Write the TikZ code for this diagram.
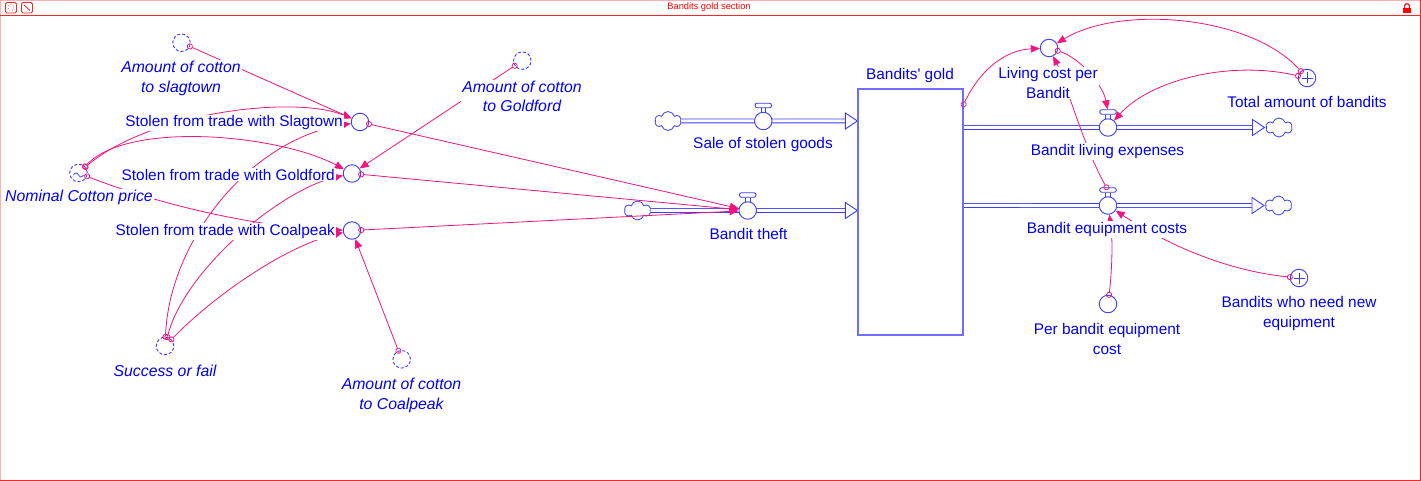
\documentclass[tikz,border=0pt]{standalone}
\usepackage{fontspec}
\setmainfont{Liberation Sans}[Ligatures=TeXOff]
\usetikzlibrary{arrows.meta,shapes.symbols,calc}
\pgfdeclarelayer{back}
\pgfdeclarelayer{nodes}
\pgfdeclarelayer{mid}
\pgfsetlayers{back,nodes,mid,main}
\definecolor{vtext}{RGB}{0,0,250}
\definecolor{sblue}{RGB}{60,60,250}
\definecolor{stockblue}{RGB}{110,110,255}
\definecolor{conn}{RGB}{245,20,125}
\definecolor{framered}{RGB}{240,40,40}
\definecolor{framelight}{RGB}{255,175,175}
\tikzset{
  lbl/.style={text=vtext, font=\fontsize{15.4}{19.5}\selectfont, inner sep=1pt, fill=white, align=center},
  ilbl/.style={lbl, font=\fontsize{15.8}{19.5}\selectfont\itshape},
  aux/.style={circle, draw=sblue, line width=0.9pt, minimum size=17.5pt, inner sep=0pt, fill=white},
  ghost/.style={aux, dash pattern=on 3pt off 2pt},
  plusaux/.style={aux, path picture={\draw[sblue,line width=0.9pt,solid] ([xshift=-5.5pt]path picture bounding box.center) -- ([xshift=5.5pt]path picture bounding box.center) ([yshift=-5.5pt]path picture bounding box.center) -- ([yshift=5.5pt]path picture bounding box.center);}},
  wavy/.style={ghost, path picture={\draw[sblue,line width=0.7pt,solid] ([xshift=-5pt,yshift=-2pt]path picture bounding box.center) sin ++(2.5pt,2pt) cos ++(2.5pt,-2pt) sin ++(2.5pt,-2pt) cos ++(2.5pt,2pt);}},
  handle/.style={rectangle, rounded corners=2pt, draw=sblue, line width=0.9pt, fill=white, minimum width=16.5pt, minimum height=4.5pt, inner sep=0pt},
  cloudn/.style={cloud, cloud puffs=6, aspect=1.3, draw=sblue, line width=0.8pt, fill=white, minimum width=26pt, minimum height=19pt, inner sep=0pt},
  stockn/.style={rectangle, draw=stockblue, line width=1.3pt, fill=white, minimum width=105pt, minimum height=246pt, inner sep=0pt},
  pipe/.style={draw=sblue, line width=0.9pt, double=white, double distance=3pt},
  tipn/.style={draw=sblue, line width=0.9pt, fill=white, line join=miter},
  link/.style={draw=conn, line width=0.8pt, {Circle[open,length=6pt,width=6pt]}-{Triangle[length=9pt,width=7.5pt]}, shorten <=-3pt},
}
\newcommand{\flowtip}[1]{\draw[tipn] ($(#1)+(-12,-8)$) -- (#1) -- ($(#1)+(-12,8)$) -- cycle;}
\begin{document}
\begin{tikzpicture}[x=1pt,y=-1pt]
\useasboundingbox (0,0) rectangle (1421,481);
\begin{pgfonlayer}{back}
\fill[white] (0,0) rectangle (1421,481);
\draw[framelight, line width=1pt] (0,0.5) -- (1421,0.5);
\draw[framelight, line width=1pt] (0.5,0) -- (0.5,481);
\draw[framered, line width=1pt] (0,15.5) -- (1421,15.5);
\draw[framered, line width=1pt] (1420,0) -- (1420,481);
\draw[framered, line width=1pt] (0,480) -- (1421,480);
% window icons
\draw[framered, rounded corners=1.5pt, line width=0.8pt] (5.5,2.5) rectangle (16.5,13);
\draw[framered, dotted, line width=0.7pt] (11,7.7) circle (3);
\draw[framered, rounded corners=1.5pt, line width=0.8pt] (21.5,2.5) rectangle (32.5,13);
\draw[framered, line width=0.8pt] (24,5) -- (30,10.5);
\fill[red] (1403,8) rectangle (1411,13.3);
\draw[red, line width=1.2pt] (1404.6,8) -- (1404.6,6) .. controls (1404.6,3) and (1409.4,3) .. (1409.4,6) -- (1409.4,8);
\end{pgfonlayer}
\node[text=red, font=\fontsize{9.3}{10}\selectfont, inner sep=0pt] (title) at (709,7) {Bandits gold section};

\begin{pgfonlayer}{nodes}
% stock
\node[stockn] (stock) at (910.5,212) {};
% valves
\node[aux] (vS) at (763.3,121) {};
\node[handle] (vSh) at (763.3,105.5) {};
\node[aux] (vT) at (747.7,210.5) {};
\node[handle] (vTh) at (747.7,195) {};
\node[aux] (vL) at (1108,127.5) {};
\node[handle] (vLh) at (1108,112) {};
\node[aux] (vE) at (1108,205.5) {};
\node[handle] (vEh) at (1108,190) {};
\foreach \vv in {vS,vT,vL,vE}{
  \draw[sblue, line width=0.8pt] ([xshift=-2.2pt]\vv h.south) -- ([xshift=-2.2pt,yshift=-0.6pt]\vv.north)
    ([xshift=2.2pt]\vv h.south) -- ([xshift=2.2pt,yshift=-0.6pt]\vv.north);
}
% auxiliaries
\node[aux] (aS) at (360,122) {};
\node[aux] (aG) at (352,173.5) {};
\node[aux] (aC) at (352,230.5) {};
\node[aux] (aL) at (1049,48) {};
\node[plusaux] (aT) at (1307,78) {};
\node[aux] (aP) at (1108,304) {};
\node[plusaux] (aB) at (1299,278) {};
% ghosts
\node[ghost] (gS) at (181.5,42.7) {};
\node[ghost] (gG) at (522.3,60.7) {};
\node[wavy] (gN) at (78.5,173) {};
\node[ghost] (gF) at (165,346) {};
\node[ghost] (gC) at (401.7,359.3) {};
\end{pgfonlayer}

% labels
\node[lbl] (stockL) at (910,75.5) {Bandits' gold};
\node[lbl] (vSL) at (763,144.5) {Sale of stolen goods};
\node[lbl] (vTL) at (748.5,234) {Bandit theft};
\node[lbl] (vLL) at (1107.5,151.5) {Bandit living expenses};
\node[lbl] (vEL) at (1107,229.5) {Bandit equipment costs};
\node[lbl, anchor=east] (aSL) at (344,123) {Stolen from trade with Slagtown};
\node[lbl, anchor=east] (aGL) at (336,174.5) {Stolen from trade with Goldford};
\node[lbl, anchor=east] (aCL) at (336,231.5) {Stolen from trade with Coalpeak};
\node[lbl] (aLL) at (1048,83) {Living cost per\\Bandit};
\node[lbl] (aTL) at (1307,101.5) {Total amount of bandits};
\node[lbl] (aPL) at (1107,339) {Per bandit equipment\\cost};
\node[lbl] (aBL) at (1299,313.5) {Bandits who need new\\equipment};
\node[ilbl] (gSL) at (181,78.5) {Amount of cotton\\to slagtown};
\node[ilbl] (gGL) at (522,96.5) {Amount of cotton\\to Goldford};
\node[ilbl] (gNL) at (79,197.5) {Nominal Cotton price};
\node[ilbl] (gFL) at (165,370.5) {Success or fail};
\node[ilbl] (gCL) at (401.5,395.5) {Amount of cotton\\to Coalpeak};

% clouds and pipes
\begin{pgfonlayer}{back}
\node[cloudn] (cS) at (668,121) {};
\node[cloudn] (cT) at (637.5,210.5) {};
\node[cloudn] (cL) at (1279,127.5) {};
\node[cloudn] (cE) at (1278.5,205.5) {};
\coordinate (sIn) at (stock.west |- vS);
\coordinate (tIn) at (stock.west |- vT);
\coordinate (lOut) at (stock.east |- vL);
\coordinate (eOut) at (stock.east |- vE);
\coordinate (lTip) at ($(cL.west)+(-1.5,0)$);
\coordinate (eTip) at ($(cE.west)+(-1.5,0)$);
\draw[pipe] (cS.east) -- ($(sIn)+(-12,0)$); \flowtip{sIn}
\draw[pipe] (cT.east) -- ($(tIn)+(-12,0)$); \flowtip{tIn}
\draw[pipe] (lOut) -- ($(lTip)+(-12,0)$); \flowtip{lTip}
\draw[pipe] (eOut) -- ($(eTip)+(-12,0)$); \flowtip{eTip}
\end{pgfonlayer}

% connectors
\coordinate (gOut) at ($(stock.north east)+(0,16)$);
\begin{pgfonlayer}{mid}
\draw[link] (gS) -- (aS);
\draw[link] (gN) .. controls (150,112) and (295,95) .. (aS);
\draw[link] (gN) .. controls (130,120) and (280,135) .. (aG);
\draw[link] (gN) .. controls (160,205) and (260,228) .. (aC);
\draw[link] (gF) .. controls (170,240) and (250,140) .. (aS);
\draw[link] (gF) .. controls (185,270) and (280,190) .. (aG);
\draw[link] (gF) .. controls (220,290) and (290,245) .. (aC);
\draw[link] (gG) -- (aG);
\draw[link] (gC) -- (aC);
\draw[link] (aS) -- (vT);
\draw[link] (aG) -- (vT);
\draw[link] (aC) -- (vT);
\draw[link] (gOut) .. controls (980,70) and (1005,50) .. (aL);
\draw[link] (aT) .. controls (1250,15) and (1120,5) .. (aL);
\draw[link] (aL) .. controls (1080,58) and (1103,85) .. (vLh);
\draw[link] (aT) .. controls (1230,60) and (1150,80) .. (vL);
\draw[link] (vEh) .. controls (1085,150) and (1065,80) .. (aL);
\draw[link] (aP) .. controls (1112,270) and (1113,240) .. (vE);
\draw[link] (aB) .. controls (1220,270) and (1160,240) .. (vE);
\end{pgfonlayer}
\end{tikzpicture}
\end{document}
